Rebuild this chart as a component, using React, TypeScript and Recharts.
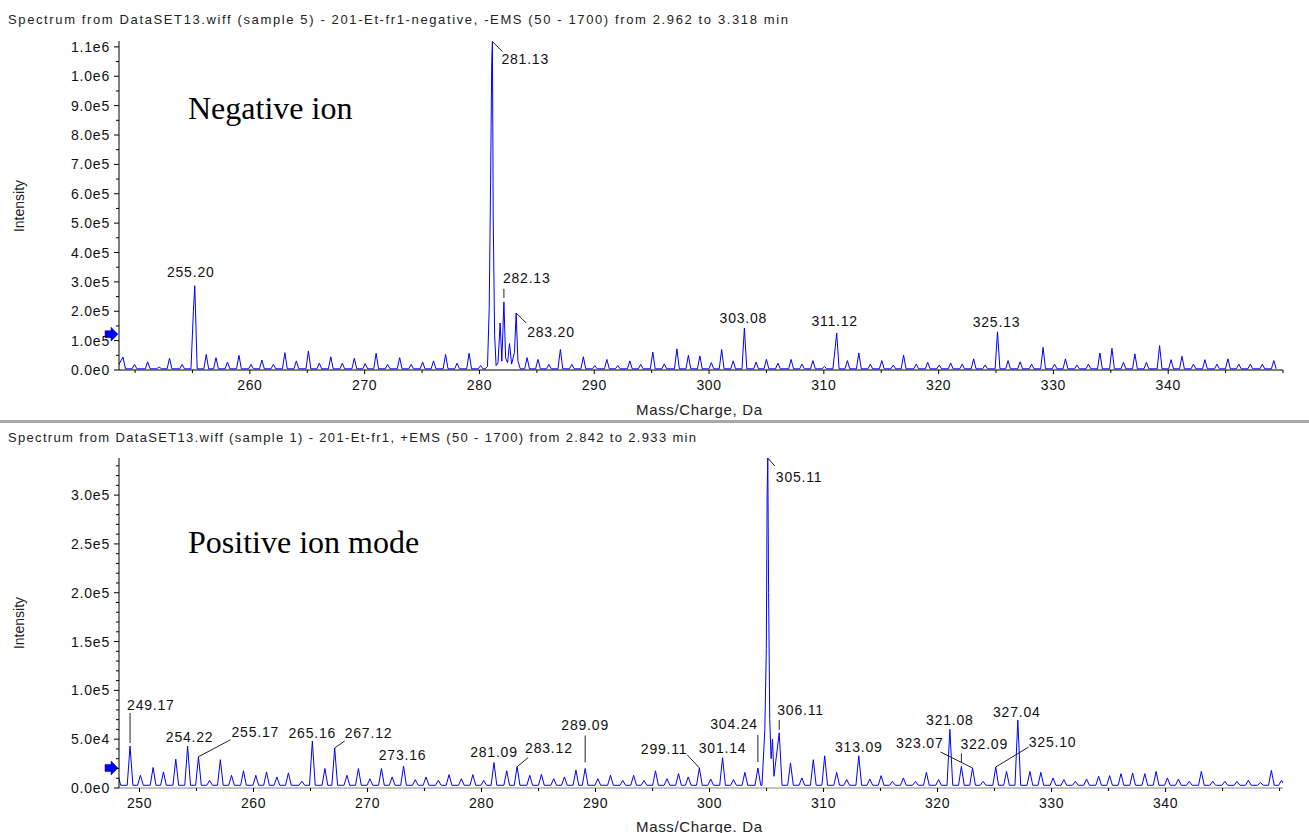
import React from 'react';
import { LineChart, Line, XAxis, YAxis, ReferenceDot } from 'recharts';

// ---------- DATA: negative ion spectrum (peak apex m/z and intensity) ----------
const negPeakMz = [
  248.6, 248.95, 249.95, 251.1, 252.1, 253.0, 254.1, 255.08, 255.2, 256.2, 257.05, 258.05, 259.05,
  260.1, 261.05, 262.05, 263.05, 264.05, 265.1, 266.05, 267.05, 268.05, 269.1, 270.05, 271.0,
  272.0, 273.05, 274.05, 275.05, 276.0, 277.05, 278.05, 279.1, 280.1,
  280.7, 280.85, 280.97, 281.07, 281.13, 281.2, 281.32, 281.45, 281.62, 281.8, 281.95, 282.13,
  282.28, 282.45, 282.62, 282.8, 283.05, 283.2, 283.35,
  284.15, 285.1, 286.05, 287.05, 288.05, 289.05, 290.05, 291.1, 292.05, 293.1, 294.05, 295.1,
  296.1, 297.2, 298.2, 299.2, 300.2, 301.1, 302.1, 303.08, 304.1, 305.0, 306.0, 307.15, 308.1,
  309.05, 310.05, 311.0, 311.12, 312.05, 313.05, 314.05, 315.05, 316.05, 316.95, 318.05, 319.05,
  320.05, 321.05, 322.05, 323.05, 324.05, 325.13, 326.05, 327.1, 328.1, 329.1, 330.1, 331.05,
  332.05, 333.05, 334.05, 335.1, 336.1, 337.1, 338.1, 339.25, 340.25, 341.2, 342.2, 343.2,
  344.25, 345.2, 346.15, 347.15, 348.2, 349.2,
];
const negPeakInt = [
  20000, 44000, 19000, 28000, 10000, 40000, 19000, 200000, 287000, 53000, 42000, 27000, 50000,
  19000, 34000, 19000, 59000, 31000, 65000, 23000, 45000, 23000, 40000, 22000, 57000,
  19000, 42000, 19000, 27000, 31000, 53000, 23000, 57000, 15000,
  12000, 210000, 636000, 1050000, 1118000, 517000, 120000, 15000, 25000, 160000, 30000, 232000,
  40000, 25000, 90000, 20000, 60000, 194000, 30000,
  42000, 36000, 19000, 70000, 19000, 45000, 15000, 36000, 15000, 31000, 19000, 61000,
  21000, 72000, 50000, 48000, 25000, 70000, 31000, 143000, 27000, 36000, 23000, 36000, 20000,
  32000, 12000, 80000, 126000, 32000, 58000, 20000, 32000, 17000, 51000, 20000, 26000,
  17000, 24000, 20000, 38000, 17000, 130000, 32000, 28000, 20000, 77000, 20000, 38000,
  17000, 20000, 58000, 74000, 26000, 55000, 26000, 83000, 35000, 47000, 20000, 35000,
  20000, 38000, 20000, 20000, 20000, 32000,
];
const negLabelMz = [255.2, 281.13, 282.13, 283.2, 303.08, 311.12, 325.13];

// ---------- DATA: positive ion spectrum ----------
const posPeakMz = [
  248.1, 249.17, 250.08, 251.19, 252.1, 253.18, 254.22, 255.17, 256.15, 257.09, 258.07, 259.12,
  260.2, 261.14, 262.05, 263.06, 264.24, 265.16, 266.26, 267.12, 268.19, 269.2, 270.21, 271.22,
  272.16, 273.16, 274.19, 275.13, 276.21, 277.15, 278.23, 279.24, 280.19, 281.09, 282.21, 283.12,
  284.23, 285.25, 286.33, 287.27, 288.28, 289.09, 290.2, 291.31, 292.39, 293.34, 294.25, 295.26,
  296.27, 297.28, 298.13, 299.11, 300.1, 301.14, 302.1, 303.1, 304.24,
  304.85, 304.98, 305.05, 305.11, 305.18, 305.28, 305.4, 305.52, 305.65,
  306.11, 307.1, 308.1, 309.1, 310.1, 311.15, 312.03, 313.09, 314.06, 315.05, 316.04, 317.0,
  318.06, 319.02, 320.09, 321.08, 322.09, 323.07, 323.99, 325.1, 326.05, 327.04, 328.1, 329.06,
  330.13, 331.08, 332.08, 333.07, 334.13, 335.09, 336.09, 337.11, 338.18, 339.17, 340.16, 341.12,
  342.08, 343.14, 344.14, 345.2, 346.27, 347.26, 348.32, 349.28, 350.17,
];
const posPeakInt = [
  14000, 43000, 13000, 21000, 16500, 29500, 43000, 32000, 7700, 29000, 13000, 17600,
  13000, 16500, 11300, 15500, 7000, 48000, 20000, 41000, 13000, 20000, 9500, 20000,
  11300, 22500, 8500, 11300, 7700, 13700, 9500, 13700, 7700, 26000, 17600, 21800,
  13000, 14000, 9500, 11300, 18300, 20000, 9500, 13000, 7700, 13000, 7700, 17600,
  9500, 14800, 11300, 20500, 9200, 31000, 8600, 16000, 20500,
  60000, 143000, 300000, 338000, 200000, 70000, 30000, 50000, 12000,
  56500, 25700, 10300, 29000, 33000, 16000, 8600, 33000, 9200, 12700, 6800, 10300,
  6800, 16000, 8600, 60000, 22000, 20500, 6800, 21500, 17000, 69500, 17000, 16000,
  10300, 8600, 6800, 9200, 12000, 12700, 14700, 15400, 14700, 17000, 10300, 9200,
  6800, 17000, 6800, 6800, 6800, 7900, 5800, 18000, 7900,
];
const posLabelMz = [
  249.17, 254.22, 255.17, 265.16, 267.12, 273.16, 281.09, 283.12, 289.09, 299.11, 301.14,
  304.24, 305.11, 306.11, 313.09, 321.08, 322.09, 323.07, 325.1, 327.04,
];

// axis ticks
const negXTicks = [250, 255, 260, 265, 270, 275, 280, 285, 290, 295, 300, 305, 310, 315, 320, 325, 330, 335, 340, 345, 350];
const negXLabels = [260, 270, 280, 290, 300, 310, 320, 330, 340];
const posXTicks = [250, 255, 260, 265, 270, 275, 280, 285, 290, 295, 300, 305, 310, 315, 320, 325, 330, 335, 340, 345, 350];
const posXLabels = [250, 260, 270, 280, 290, 300, 310, 320, 330, 340];
const negYTicks = Array.from({ length: 23 }, (_, i) => i * 50000);
const posYTicks = Array.from({ length: 34 }, (_, i) => i * 10000);
const negArrowLevel = 122000;
const posArrowLevel = 20500;

// ---------- label placement (style only) ----------
type Place = { kind: 'none' | 'diag' | 'vert'; l?: number[]; tx: number; ty: number; anchor: 'start' | 'middle' | 'end' };
const negPlace: Place[] = [
  { kind: 'none', tx: -4, ty: -14, anchor: 'middle' },
  { kind: 'diag', l: [0, 0, 10, 10], tx: 9, ty: 17, anchor: 'start' },
  { kind: 'vert', l: [0, -13, 0, -4], tx: -1, ty: -24, anchor: 'start' },
  { kind: 'diag', l: [0, 0, 10, 10], tx: 11, ty: 19, anchor: 'start' },
  { kind: 'none', tx: -1, ty: -10, anchor: 'middle' },
  { kind: 'none', tx: -2, ty: -12, anchor: 'middle' },
  { kind: 'none', tx: -1, ty: -10, anchor: 'middle' },
];
const posPlace: Place[] = [
  { kind: 'vert', l: [0, -33, 0, -3], tx: -3, ty: -41, anchor: 'start' },
  { kind: 'none', tx: 2, ty: -9, anchor: 'middle' },
  { kind: 'diag', l: [0, 0, 32, -17], tx: 33, ty: -25, anchor: 'start' },
  { kind: 'none', tx: 0, ty: -8, anchor: 'middle' },
  { kind: 'diag', l: [0, 0, 10, -7], tx: 10, ty: -15, anchor: 'start' },
  { kind: 'none', tx: -1, ty: -11, anchor: 'middle' },
  { kind: 'none', tx: 0, ty: -11, anchor: 'middle' },
  { kind: 'diag', l: [0, 0, 11, -9], tx: 8, ty: -19, anchor: 'start' },
  { kind: 'vert', l: [0, -33, 0, -6], tx: 0, ty: -43, anchor: 'middle' },
  { kind: 'diag', l: [0, 0, -12, -13], tx: -12, ty: -19, anchor: 'end' },
  { kind: 'none', tx: 0, ty: -10, anchor: 'middle' },
  { kind: 'vert', l: [0, -33, 0, -6], tx: 0, ty: -44, anchor: 'end' },
  { kind: 'diag', l: [0, 0, 7, 8], tx: 8, ty: 19, anchor: 'start' },
  { kind: 'vert', l: [0, -13, 0, -3], tx: -2, ty: -23, anchor: 'start' },
  { kind: 'none', tx: 0, ty: -9, anchor: 'middle' },
  { kind: 'none', tx: 0, ty: -9, anchor: 'middle' },
  { kind: 'vert', l: [0, -13, 0, -4], tx: -1, ty: -23, anchor: 'start' },
  { kind: 'diag', l: [0, 0, -32, -16], tx: -29, ty: -25, anchor: 'end' },
  { kind: 'diag', l: [0, 0, 33, -20], tx: 33, ty: -25, anchor: 'start' },
  { kind: 'none', tx: -1, ty: -8, anchor: 'middle' },
];

const FONT = "'Liberation Sans', Arial, Helvetica, sans-serif";
const BLUE = '#0000ff';

function buildProfile(mz: number[], inten: number[], base: number, hw: number) {
  const pts = mz.map((m, i) => ({ m, v: inten[i] })).sort((a, b) => a.m - b.m);
  const out: { mz: number; y: number }[] = [];
  pts.forEach((p, i) => {
    const prev = pts[i - 1];
    const next = pts[i + 1];
    if (!prev || p.m - prev.m > 2 * hw) out.push({ mz: +(p.m - hw).toFixed(3), y: base });
    out.push({ mz: p.m, y: p.v });
    if (!next || next.m - p.m > 2 * hw) out.push({ mz: +(p.m + hw).toFixed(3), y: base });
  });
  return out;
}

const negData = buildProfile(negPeakMz, negPeakInt, 4000, 0.21);
const posData = buildProfile(posPeakMz, posPeakInt, 2800, 0.25);

function fmt(v: number) {
  if (v === 0) return '0.0e0';
  return v.toExponential(1).replace('e+', 'e');
}

function makeYTick(majorStep: number) {
  return (props: any) => {
    const { x, y, payload } = props;
    const v = payload.value;
    const major = Math.abs(v / majorStep - Math.round(v / majorStep)) < 1e-6;
    return (
      <g>
        <line x1={x - (major ? 5 : 3)} x2={x} y1={y} y2={y} stroke="#000" strokeWidth={1} />
        {major && (
          <text x={x - 9} y={y} textAnchor="end" dominantBaseline="central" fontSize={14}
            fontFamily={FONT} letterSpacing={0.8} fill="#111">{fmt(v)}</text>
        )}
      </g>
    );
  };
}

function makeXTick(labels: number[]) {
  return (props: any) => {
    const { x, y, payload } = props;
    const v = payload.value;
    const lab = labels.includes(v);
    return (
      <g>
        <line x1={x} x2={x} y1={y} y2={y + (lab ? 4 : 3)} stroke="#000" strokeWidth={1} />
        {lab && (
          <text x={x} y={y + 15} textAnchor="middle" dominantBaseline="central" fontSize={14}
            fontFamily={FONT} letterSpacing={0.6} fill="#111">{v}</text>
        )}
      </g>
    );
  };
}

function labelShape(text: string, p: Place) {
  return (props: any) => {
    const { cx, cy } = props;
    return (
      <g>
        {p.kind !== 'none' && p.l && (
          <line x1={cx + p.l[0]} y1={cy + p.l[1]} x2={cx + p.l[2]} y2={cy + p.l[3]} stroke="#222" strokeWidth={1} />
        )}
        <text x={cx + p.tx} y={cy + p.ty} textAnchor={p.anchor} dominantBaseline="central" fontSize={14}
          fontFamily={FONT} letterSpacing={0.8} fill="#111">{text}</text>
      </g>
    );
  };
}

const arrowShape = (props: any) => {
  const { cx, cy } = props;
  const pts = [
    [cx - 1, cy], [cx - 8, cy - 7], [cx - 8, cy - 3.5], [cx - 14, cy - 3.5],
    [cx - 14, cy + 3.5], [cx - 8, cy + 3.5], [cx - 8, cy + 7],
  ].map((q) => q.join(',')).join(' ');
  return <polygon points={pts} fill={BLUE} stroke="#0000c0" strokeWidth={0.5} />;
};

type PanelProps = {
  data: { mz: number; y: number }[];
  height: number;
  top: number;
  bottom: number;
  xDomain: [number, number];
  yMax: number;
  xTicks: number[];
  xLabels: number[];
  yTicks: number[];
  yMajor: number;
  labelMz: number[];
  place: Place[];
  peakMz: number[];
  peakInt: number[];
  arrowLevel: number;
  xAxisColor: string;
};

function Panel(pp: PanelProps) {
  return (
    <LineChart width={1309} height={pp.height} data={pp.data}
      margin={{ top: pp.top, right: 26, left: 59, bottom: pp.bottom }}>
      <XAxis dataKey="mz" type="number" domain={pp.xDomain} ticks={pp.xTicks} allowDataOverflow
        interval={0} tickSize={0} tickMargin={0} height={30} tick={makeXTick(pp.xLabels)}
        axisLine={{ stroke: pp.xAxisColor, strokeWidth: 1 }} tickLine={false} />
      <YAxis type="number" domain={[0, pp.yMax]} ticks={pp.yTicks} allowDataOverflow interval={0}
        tickSize={0} tickMargin={0} width={60} tick={makeYTick(pp.yMajor)}
        axisLine={{ stroke: '#000', strokeWidth: 1 }} tickLine={false} />
      <Line type="linear" dataKey="y" stroke={BLUE} strokeWidth={1} dot={false}
        isAnimationActive={false} />
      <ReferenceDot x={pp.xDomain[0]} y={pp.arrowLevel} r={0} ifOverflow="visible" shape={arrowShape} />
      {pp.labelMz.map((m, i) => {
        const idx = pp.peakMz.indexOf(m);
        const v = pp.peakInt[idx];
        return (
          <ReferenceDot key={m} x={m} y={v} r={0} ifOverflow="visible"
            shape={labelShape(m.toFixed(2), pp.place[i])} />
        );
      })}
    </LineChart>
  );
}

export default function App() {
  return (
    <div style={{ position: 'absolute', left: 0, top: 0, width: 1309, height: 833, background: '#fff', overflow: 'hidden' }}>
      <div style={{ position: 'absolute', left: 0, top: 0 }}>
        <Panel data={negData} height={420} top={41} bottom={20} xDomain={[248.6, 350.0]} yMax={1120000}
          xTicks={negXTicks} xLabels={negXLabels} yTicks={negYTicks} yMajor={100000}
          labelMz={negLabelMz} place={negPlace} peakMz={negPeakMz} peakInt={negPeakInt}
          arrowLevel={negArrowLevel} xAxisColor="#000" />
      </div>
      <div style={{ position: 'absolute', left: 0, top: 420 }}>
        <Panel data={posData} height={413} top={38} bottom={15} xDomain={[248.2, 350.3]} yMax={338000}
          xTicks={posXTicks} xLabels={posXLabels} yTicks={posYTicks} yMajor={50000}
          labelMz={posLabelMz} place={posPlace} peakMz={posPeakMz} peakInt={posPeakInt}
          arrowLevel={posArrowLevel} xAxisColor="#888" />
      </div>
      <svg width={1309} height={833} style={{ position: 'absolute', left: 0, top: 0, pointerEvents: 'none' }}>
        <text x={8} y={19} dominantBaseline="central" fontSize={13} fontFamily={FONT} fill="#222"
          textLength={780} lengthAdjust="spacing">
          Spectrum from DataSET13.wiff (sample 5) - 201-Et-fr1-negative, -EMS (50 - 1700) from 2.962 to 3.318 min
        </text>
        <rect x={0} y={420} width={1309} height={3} fill="#a8a8a8" />
        <text x={8} y={437} dominantBaseline="central" fontSize={13} fontFamily={FONT} fill="#222"
          textLength={688} lengthAdjust="spacing">
          Spectrum from DataSET13.wiff (sample 1) - 201-Et-fr1, +EMS (50 - 1700) from 2.842 to 2.933 min
        </text>
        <text x={19} y={206} transform="rotate(-90 19 206)" textAnchor="middle" dominantBaseline="central"
          fontSize={14} fontFamily={FONT} fill="#222">Intensity</text>
        <text x={19} y={623} transform="rotate(-90 19 623)" textAnchor="middle" dominantBaseline="central"
          fontSize={14} fontFamily={FONT} fill="#222">Intensity</text>
        <text x={699} y={409} textAnchor="middle" dominantBaseline="central" fontSize={15} fontFamily={FONT}
          fill="#222" textLength={126} lengthAdjust="spacing">Mass/Charge, Da</text>
        <text x={699} y={826} textAnchor="middle" dominantBaseline="central" fontSize={15} fontFamily={FONT}
          fill="#222" textLength={126} lengthAdjust="spacing">Mass/Charge. Da</text>
        <text x={188} y={108} dominantBaseline="central" fontSize={32} fontFamily="'Liberation Serif', 'Times New Roman', serif"
          fill="#000">Negative ion</text>
        <text x={188} y={542} dominantBaseline="central" fontSize={32} fontFamily="'Liberation Serif', 'Times New Roman', serif"
          fill="#000">Positive ion mode</text>
      </svg>
    </div>
  );
}
